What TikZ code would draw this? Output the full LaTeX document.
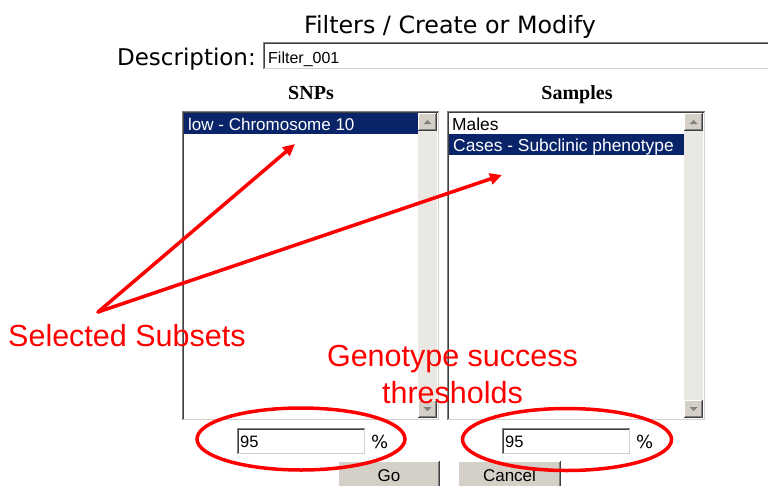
\documentclass[tikz,border=0pt]{standalone}
\usepackage{fontspec}
\setmainfont{Liberation Sans}
\newfontfamily\verdfont{DejaVu Sans}
\newfontfamily\serffont{Liberation Serif}
\usetikzlibrary{arrows.meta,shapes.geometric}

\definecolor{navy}{HTML}{0A246A}
\definecolor{btnface}{HTML}{D4D0C8}
\definecolor{shadowA}{HTML}{808080}
\definecolor{shadowB}{HTML}{404040}
\definecolor{track}{HTML}{EAE8E3}
\definecolor{annored}{HTML}{FF0000}

\newcommand{\px}[1]{\fontsize{#1}{#1}\selectfont}

% sunken frame (list boxes, text fields): x1 y1 x2 y2
\newcommand{\insetframe}[4]{%
  \fill[white] (#1,#2) rectangle (#3,#4);
  \draw[shadowA, line width=1pt] (#1+0.5,#4) -- (#1+0.5,#2+0.5) -- (#3,#2+0.5);
  \draw[shadowB, line width=1pt] (#1+1.5,#4-1) -- (#1+1.5,#2+1.5) -- (#3-1,#2+1.5);
  \draw[btnface, line width=1pt] (#1+1,#4-0.5) -- (#3-0.5,#4-0.5) -- (#3-0.5,#2+1);
}
% raised face (buttons): x1 y1 x2 y2
\newcommand{\raisedbtn}[4]{%
  \fill[btnface] (#1,#2) rectangle (#3,#4);
  \draw[white, line width=1pt] (#1+0.5,#4-1) -- (#1+0.5,#2+0.5) -- (#3-1,#2+0.5);
  \draw[shadowB, line width=1pt] (#1,#4-0.5) -- (#3-0.5,#4-0.5) -- (#3-0.5,#2);
  \draw[shadowA, line width=1pt] (#1+1,#4-1.5) -- (#3-1.5,#4-1.5) -- (#3-1.5,#2+1);
}
% vertical scroll bar: x1 y1 x2 y2
\newcommand{\scrollbar}[4]{%
  \fill[track] (#1,#2) rectangle (#3,#4);
  \raisedbtn{#1}{#2}{#3}{#2+18}
  \raisedbtn{#1}{#4-18}{#3}{#4}
  \fill[shadowA] ({(#1+#3)/2-4},#2+11) -- ({(#1+#3)/2+4},#2+11) -- ({(#1+#3)/2},#2+7) -- cycle;
  \fill[shadowA] ({(#1+#3)/2-4},#4-11) -- ({(#1+#3)/2+4},#4-11) -- ({(#1+#3)/2},#4-7) -- cycle;
}

\tikzset{
  lbl/.style={inner sep=0pt, anchor=base west},
  redtext/.style={inner sep=0pt, anchor=base, text=annored, font=\px{30.5}},
  pointer/.style={draw=annored, line width=3.5pt, line cap=round, line join=round,
    -{Triangle[length=12pt,width=11pt]}},
  ring/.style={ellipse, draw=annored, line width=3.5pt, inner sep=0pt}
}

\begin{document}
\begin{tikzpicture}[x=1pt,y=-1pt]
\useasboundingbox (0,0) rectangle (768,485);
\clip (0,0) rectangle (768,485);
\fill[white] (0,0) rectangle (768,485);

% heading and description field
\node[inner sep=0pt, anchor=base, font=\verdfont\px{23.8}] (title) at (450,33) {Filters / Create or Modify};
\node[inner sep=0pt, anchor=base east, font=\verdfont\px{23}] (desc) at (256,65) {Description:};
\insetframe{263}{42}{775}{69}
\node[lbl, font=\px{16}] (descval) at (268,63) {Filter\_001};

% column headings
\node[inner sep=0pt, anchor=base, font=\serffont\bfseries\px{20}] (snps) at (311,99) {SNPs};
\node[inner sep=0pt, anchor=base, font=\serffont\bfseries\px{20}] (samples) at (577,99) {Samples};

% SNP list
\insetframe{182}{111}{439}{420}
\scrollbar{418}{113}{437}{418}
\fill[navy] (184,113) rectangle (418,134);
\node[lbl, text=white, font=\px{17}] (snpsel) at (188,130) {low - Chromosome 10};

% sample list
\insetframe{447}{111}{705}{420}
\scrollbar{684}{113}{703}{418}
\node[lbl, font=\px{17.4}] (males) at (452,130) {Males};
\fill[navy] (449,134) rectangle (684,155);
\node[lbl, text=white, font=\px{17.4}] (cases) at (453,151) {Cases - Subclinic phenotype};

% threshold fields
\insetframe{237}{428}{365}{454}
\node[lbl, font=\px{16.5}] (thrA) at (240,447) {95};
\node[lbl, font=\verdfont\px{18}] (pctA) at (371,448) {\%};
\insetframe{502}{428}{630}{454}
\node[lbl, font=\px{16.5}] (thrB) at (505,447) {95};
\node[lbl, font=\verdfont\px{18}] (pctB) at (636,448) {\%};

% buttons
\raisedbtn{338}{461}{440}{495}
\node[inner sep=0pt, anchor=base, font=\px{17}] (go) at (389,481) {Go};
\raisedbtn{458}{461}{561}{495}
\node[inner sep=0pt, anchor=base, font=\px{17}] (cancel) at (509.5,481) {Cancel};

% annotations
\node[redtext, anchor=base west] (subsets) at (8,346) {Selected Subsets};
\node[redtext] (gsucc) at (452.5,366) {Genotype success};
\node[redtext] (gthr) at (452.5,403) {thresholds};

\coordinate (fork) at (98,312);
\coordinate (tipL) at (295,144);
\coordinate (tipR) at (502,175);
\draw[pointer] (fork) -- (tipL);
\draw[pointer] (fork) -- (tipR);

\node[ring, minimum width=208pt, minimum height=62pt] (ringA) at (301,439) {};
\node[ring, minimum width=209pt, minimum height=62pt] (ringB) at (567,439.5) {};
\end{tikzpicture}
\end{document}
